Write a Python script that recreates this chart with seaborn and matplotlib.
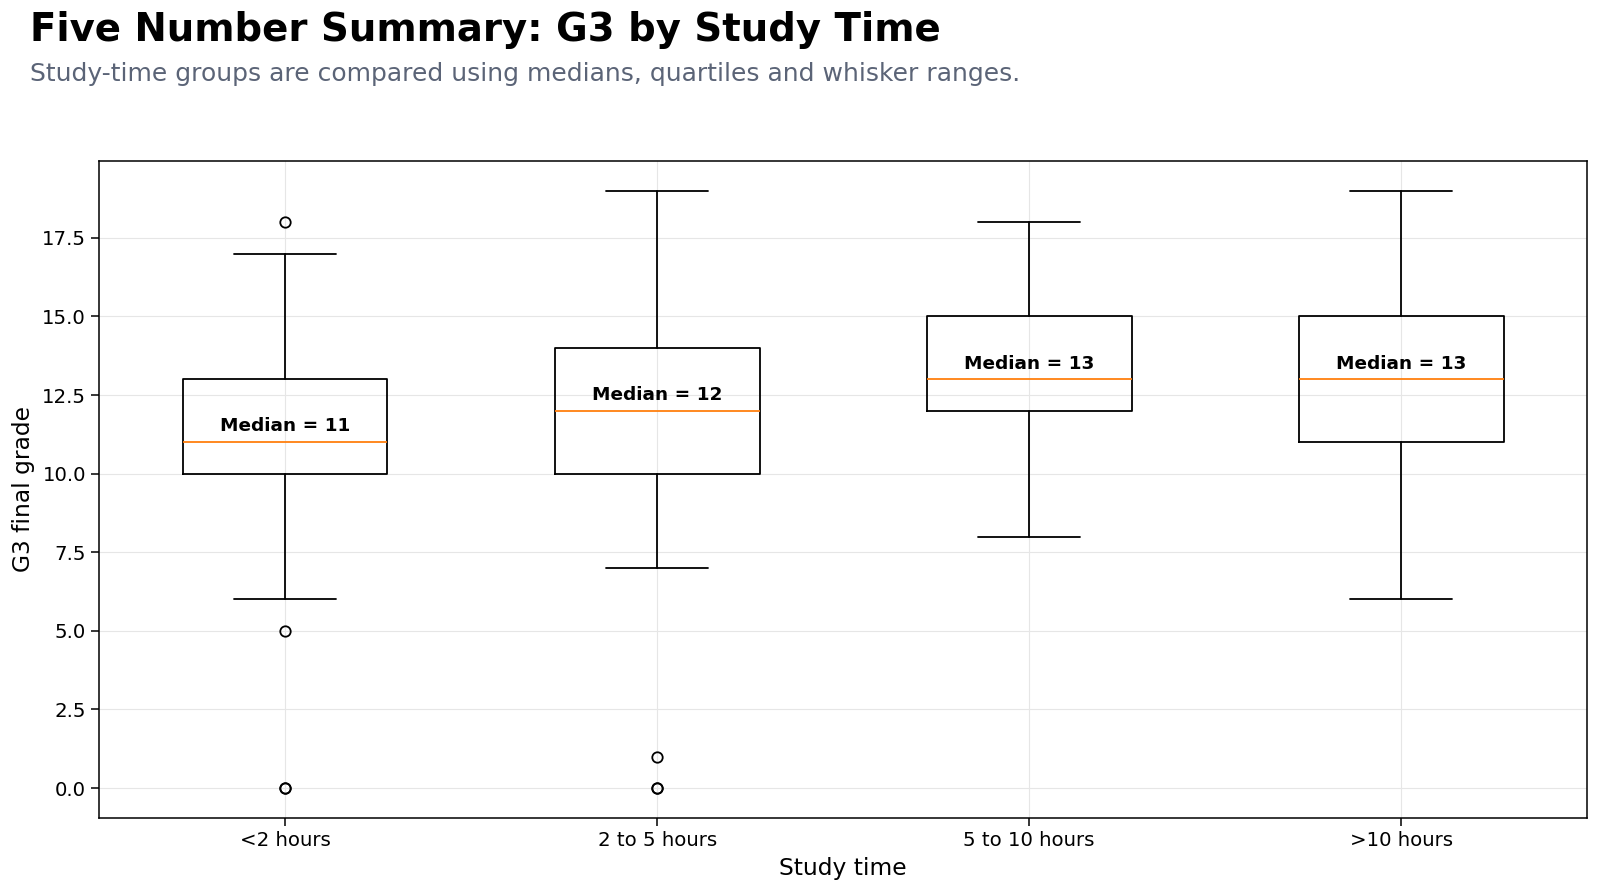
import matplotlib
matplotlib.use("Agg")
import matplotlib.pyplot as plt
import seaborn as sns

# five-number summaries
GROUPS = ["<2 hours", "2 to 5 hours", "5 to 10 hours", ">10 hours"]
WHISKER_LOW = [6, 7, 8, 6]
Q1 = [10, 10, 12, 11]
MEDIAN = [11, 12, 13, 13]
Q3 = [13, 14, 15, 15]
WHISKER_HIGH = [17, 19, 18, 19]
FLIERS = [[18, 5, 0, 0], [1, 0, 0], [], []]


def build_stats():
    stats = []
    for i, label in enumerate(GROUPS):
        stats.append(
            {
                "label": label,
                "whislo": WHISKER_LOW[i],
                "q1": Q1[i],
                "med": MEDIAN[i],
                "q3": Q3[i],
                "whishi": WHISKER_HIGH[i],
                "fliers": FLIERS[i],
            }
        )
    return stats


def main():
    sns.set_theme(style="whitegrid", rc={
        "axes.edgecolor": "black",
        "axes.linewidth": 1.0,
        "grid.color": "#e6e6e6",
        "grid.linewidth": 0.8,
        "xtick.bottom": True,
        "ytick.left": True,
        "xtick.color": "black",
        "ytick.color": "black",
    })
    plt.rcParams["font.family"] = ["DejaVu Sans"]

    fig = plt.figure(figsize=(16, 8.93), dpi=100)
    ax = fig.add_axes([0.062, 0.084, 0.930, 0.736])

    ax.bxp(
        build_stats(),
        widths=0.55,
        patch_artist=False,
        boxprops={"color": "black", "linewidth": 1.3},
        whiskerprops={"color": "black", "linewidth": 1.3},
        capprops={"color": "black", "linewidth": 1.3},
        medianprops={"color": "#ff7f0e", "linewidth": 1.3},
        flierprops={"marker": "o", "markerfacecolor": "none", "markeredgecolor": "black",
                    "markersize": 7.5, "markeredgewidth": 1.3},
    )
    ax.set_ylim(-0.95, 19.95)
    ax.set_xlim(0.5, 4.5)

    for i, med in enumerate(MEDIAN):
        ax.text(i + 1, med + 0.5, f"Median = {med}", ha="center", va="center",
                fontsize=13.3, fontweight="bold", color="black")

    ax.grid(True, color="#e6e6e6", linewidth=0.8)
    ax.tick_params(axis="both", labelsize=14.2, length=6, width=1.1, colors="black")
    for spine in ax.spines.values():
        spine.set_color("black")
        spine.set_linewidth(1.1)
    ax.set_xlabel("Study time", fontsize=16.8, color="black", labelpad=5)
    ax.set_ylabel("G3 final grade", fontsize=16.8, color="black", labelpad=5)

    fig.text(0.019, 0.988, "Five Number Summary: G3 by Study Time", fontsize=27.8,
             fontweight="bold", ha="left", va="top", color="black")
    fig.text(0.019, 0.931, "Study-time groups are compared using medians, quartiles and whisker ranges.",
             fontsize=18, ha="left", va="top", color="#5b6477")

    fig.savefig("out.png", dpi=100)
    plt.close(fig)


if __name__ == "__main__":
    main()
